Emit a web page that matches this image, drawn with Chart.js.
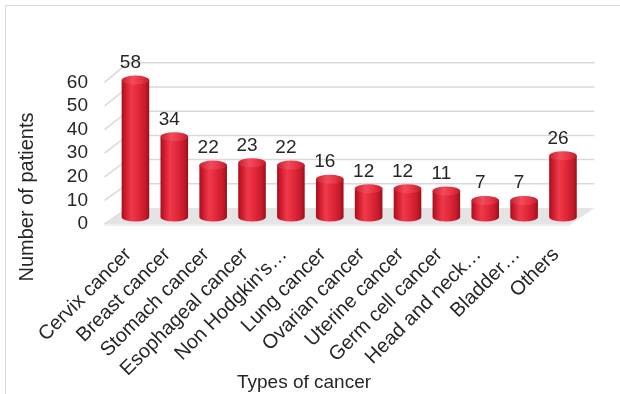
<!DOCTYPE html>
<html>
<head>
<meta charset="utf-8">
<script src="https://cdn.jsdelivr.net/npm/chart.js@4.4.1/dist/chart.umd.min.js"></script>
<style>
  html, body { margin: 0; padding: 0; background: #ffffff; }
  #wrap { position: relative; width: 620px; height: 394px; }
</style>
</head>
<body>
<div id="wrap"><canvas id="c"></canvas></div>
<script>
// ---- data ----
const categories = ['Cervix cancer', 'Breast cancer', 'Stomach cancer', 'Esophageal cancer', "Non Hodgkin's\u2026", 'Lung cancer', 'Ovarian cancer', 'Uterine cancer', 'Germ cell cancer', 'Head and neck\u2026', 'Bladder\u2026', 'Others'];
const patients = [58, 34, 22, 23, 22, 16, 12, 12, 11, 7, 7, 26];
const yTickValues = [0, 10, 20, 30, 40, 50, 60];
const xAxisTitle = 'Types of cancer';
const yAxisTitle = 'Number of patients';

// ---- styling ----
const TEXT = '#262626';
const GRID = '#d9d9d9';
const NUM_FONT = "'Liberation Sans', Arial, sans-serif";
const TXT_FONT = "'Liberation Sans', Arial, sans-serif";
const FRONT_DX = -11.5, BACK_DX = 12, FRONT_DY = 7, BACK_DY = -9;
const CAP_RY = 4.5;

function yFront(ys, v) { return ys.getPixelForValue(v) + FRONT_DY; }
function yBack(ys, v) {
  const y0 = ys.getPixelForValue(0), yv = ys.getPixelForValue(v);
  return yv + BACK_DY - (y0 - yv) * 0.025;
}

function bodyGradient(ctx, x, w) {
  const g = ctx.createLinearGradient(x - w / 2, 0, x + w / 2, 0);
  g.addColorStop(0, '#a50f1c');
  g.addColorStop(0.15, '#d01d2f');
  g.addColorStop(0.35, '#ee3a4b');
  g.addColorStop(0.55, '#e62b3d');
  g.addColorStop(0.85, '#c71a2b');
  g.addColorStop(1, '#98101b');
  return g;
}
function capGradient(ctx, x, w) {
  const g = ctx.createLinearGradient(x - w / 2, 0, x + w / 2, 0);
  g.addColorStop(0, '#c81f2f');
  g.addColorStop(0.4, '#f24b5b');
  g.addColorStop(0.7, '#e63446');
  g.addColorStop(1, '#c01c2c');
  return g;
}

const framePlugin = {
  id: 'frame',
  beforeDraw(chart) {
    const ctx = chart.ctx;
    ctx.save();
    ctx.fillStyle = '#ffffff';
    ctx.fillRect(0, 0, chart.width, chart.height);
    ctx.strokeStyle = '#d9d9d9';
    ctx.lineWidth = 1;
    ctx.beginPath();
    ctx.moveTo(5.5, chart.height);
    ctx.lineTo(5.5, 5.5);
    ctx.lineTo(chart.width, 5.5);
    ctx.stroke();
    ctx.restore();
  }
};

const wallsPlugin = {
  id: 'walls',
  beforeDatasetsDraw(chart) {
    const ctx = chart.ctx;
    const ys = chart.scales.y;
    const { left, right } = chart.chartArea;
    ctx.save();
    // floor
    ctx.fillStyle = '#e4e4e4';
    ctx.beginPath();
    ctx.moveTo(left + FRONT_DX, yFront(ys, 0));
    ctx.lineTo(right + FRONT_DX, yFront(ys, 0));
    ctx.lineTo(right + BACK_DX, yBack(ys, 0));
    ctx.lineTo(left + BACK_DX, yBack(ys, 0));
    ctx.closePath();
    ctx.fill();
    ctx.fillStyle = '#efefef';
    ctx.fillRect(left + FRONT_DX, yFront(ys, 0), right - left, 2);
    // back wall gridlines + side diagonals
    ctx.strokeStyle = GRID;
    ctx.lineWidth = 1.5;
    yTickValues.forEach(v => {
      const yb = yBack(ys, v), yf = yFront(ys, v);
      ctx.beginPath();
      if (v !== 0) {
        ctx.moveTo(left + BACK_DX, yb);
        ctx.lineTo(right + BACK_DX, yb);
      }
      ctx.moveTo(left + FRONT_DX, yf);
      ctx.lineTo(left + BACK_DX, yb);
      ctx.stroke();
    });
    ctx.restore();
  },
  afterDatasetsDraw(chart) {
    const ctx = chart.ctx;
    const meta = chart.getDatasetMeta(0);
    ctx.save();
    meta.data.forEach((el, i) => {
      const w = el.width;
      // rounded bottom
      ctx.fillStyle = bodyGradient(ctx, el.x, w);
      ctx.beginPath();
      ctx.ellipse(el.x, el.base, w / 2, CAP_RY, 0, 0, Math.PI);
      ctx.fill();
      // top cap
      ctx.fillStyle = capGradient(ctx, el.x, w);
      ctx.beginPath();
      ctx.ellipse(el.x, el.y, w / 2, CAP_RY, 0, 0, Math.PI * 2);
      ctx.fill();
      // value label
      ctx.fillStyle = TEXT;
      ctx.font = '19px ' + NUM_FONT;
      ctx.textAlign = 'center';
      ctx.textBaseline = 'alphabetic';
      ctx.fillText(String(patients[i]), el.x - 5, el.y - 12);
    });
    ctx.restore();
  },
  afterDraw(chart) {
    const ctx = chart.ctx;
    ctx.save();
    ctx.fillStyle = TEXT;
    ctx.textAlign = 'center';
    ctx.textBaseline = 'middle';
    ctx.font = '19px ' + TXT_FONT;
    ctx.fillText(xAxisTitle, 304, 383);
    ctx.translate(27, 197);
    ctx.rotate(-Math.PI / 2);
    ctx.font = '20px ' + TXT_FONT;
    ctx.fillText(yAxisTitle, 0, 0);
    ctx.restore();
  }
};

new Chart(document.getElementById('c'), {
  type: 'bar',
  data: {
    labels: categories,
    datasets: [{
      label: yAxisTitle,
      data: patients,
      backgroundColor: (c) => {
        const chart = c.chart;
        if (!chart.chartArea) return '#e02a3c';
        const xs = chart.scales.x;
        const x = xs.getPixelForValue(c.dataIndex);
        const w = (xs.width / categories.length) * 0.71;
        return bodyGradient(chart.ctx, x, w);
      },
      borderWidth: 0,
      categoryPercentage: 1,
      barPercentage: 0.71
    }]
  },
  options: {
    responsive: true,
    maintainAspectRatio: false,
    animation: false,
    devicePixelRatio: 1,
    layout: { padding: { left: 0, right: 37.6, top: 75.4, bottom: 0 } },
    plugins: { legend: { display: false }, tooltip: { enabled: false }, title: { display: false } },
    scales: {
      x: {
        grid: { display: false, drawTicks: false },
        border: { display: false },
        ticks: {
          autoSkip: false,
          minRotation: 45,
          maxRotation: 45,
          padding: 26,
          labelOffset: -7,
          color: TEXT,
          font: { family: TXT_FONT, size: 20 }
        },
        afterFit: (s) => { s.height = 177; }
      },
      y: {
        min: 0,
        max: 60,
        grid: { display: false, drawTicks: false },
        border: { display: false },
        afterBuildTicks: (s) => { s.ticks = yTickValues.map(v => ({ value: v })); },
        ticks: {
          autoSkip: false,
          padding: 28,
          labelOffset: 7,
          color: TEXT,
          font: { family: NUM_FONT, size: 19 }
        },
        afterFit: (s) => { s.width = 116; }
      }
    }
  },
  plugins: [framePlugin, wallsPlugin]
});
</script>
</body>
</html>
